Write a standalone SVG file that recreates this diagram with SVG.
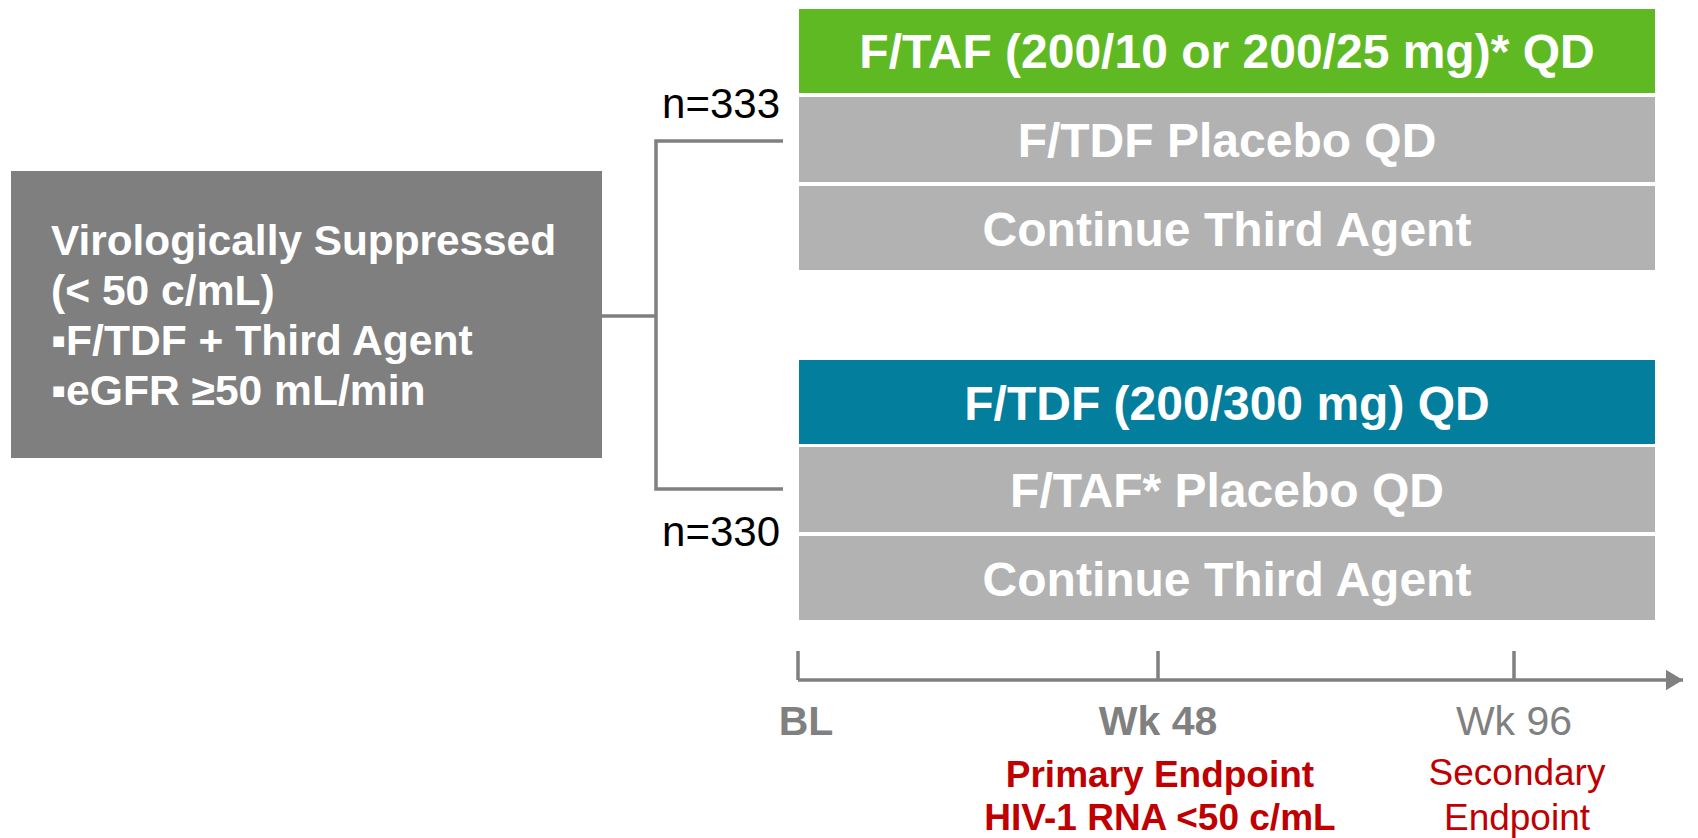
<svg xmlns="http://www.w3.org/2000/svg" width="1698" height="838" viewBox="0 0 1698 838">
<defs>
<style>
.bx{font-family:"Liberation Sans",Arial,sans-serif;font-weight:bold;font-size:48px;fill:#fff;text-anchor:middle}
.lt{font-family:"Liberation Sans",Arial,sans-serif;font-weight:bold;font-size:42.6px;fill:#fff}
.n{font-family:"Liberation Sans",Arial,sans-serif;font-size:42px;fill:#000;text-anchor:end}
.tl{font-family:"Liberation Sans",Arial,sans-serif;font-size:41px;fill:#808080;text-anchor:middle}
.ep{font-family:"Liberation Sans",Arial,sans-serif;font-size:37px;fill:#c00000;text-anchor:middle}
.ln{stroke:#808080;stroke-width:3.5;fill:none}
</style>
<marker id="arr" markerWidth="6" markerHeight="6" refX="5" refY="3" orient="auto" markerUnits="strokeWidth">
<path d="M0,0 L5,3 L0,6 Z" fill="#808080"/>
</marker>
</defs>
<rect width="1698" height="838" fill="#fff"/>

<g id="connectors">
<path class="ln" d="M601,316 H656 M783,141 H656 V489 H783"/>
<path class="ln" d="M798,680 H1683" marker-end="url(#arr)"/>
<path class="ln" d="M798,651 V680 M1158,651 V680 M1514,651 V680"/>
</g>

<g id="population">
<rect x="11" y="171" width="591" height="287" fill="#7f7f7f"/>
<text class="lt" x="51" y="255" textLength="505" lengthAdjust="spacingAndGlyphs">Virologically Suppressed</text>
<text class="lt" x="51" y="305">(&lt; 50 c/mL)</text>
<text class="lt" x="51" y="355">▪F/TDF + Third Agent</text>
<text class="lt" x="51" y="405">▪eGFR ≥50 mL/min</text>
</g>

<g id="n333"><text class="n" x="780" y="118">n=333</text></g>
<g id="n330"><text class="n" x="780" y="546">n=330</text></g>

<g id="arm1-taf">
<rect x="799" y="9" width="856" height="84" fill="#5fb923"/>
<text class="bx" x="1227" y="68">F/TAF (200/10 or 200/25 mg)* QD</text>
</g>
<g id="arm1-placebo">
<rect x="799" y="97" width="856" height="85" fill="#b2b2b2"/>
<text class="bx" x="1227" y="157">F/TDF Placebo QD</text>
</g>
<g id="arm1-third">
<rect x="799" y="186" width="856" height="84" fill="#b2b2b2"/>
<text class="bx" x="1227" y="246">Continue Third Agent</text>
</g>

<g id="arm2-tdf">
<rect x="799" y="360" width="856" height="84" fill="#037e9c"/>
<text class="bx" x="1227" y="420">F/TDF (200/300 mg) QD</text>
</g>
<g id="arm2-placebo">
<rect x="799" y="447" width="856" height="85" fill="#b2b2b2"/>
<text class="bx" x="1227" y="507">F/TAF* Placebo QD</text>
</g>
<g id="arm2-third">
<rect x="799" y="536" width="856" height="84" fill="#b2b2b2"/>
<text class="bx" x="1227" y="596">Continue Third Agent</text>
</g>

<g id="timeline-labels">
<text class="tl" x="806" y="735" font-weight="bold">BL</text>
<text class="tl" x="1158" y="735" font-weight="bold">Wk 48</text>
<text class="tl" x="1514" y="735">Wk 96</text>
<text class="ep" x="1160" y="787" font-weight="bold">Primary Endpoint</text>
<text class="ep" x="1160" y="830" font-weight="bold">HIV-1 RNA &lt;50 c/mL</text>
<text class="ep" x="1517" y="785">Secondary</text>
<text class="ep" x="1517" y="830">Endpoint</text>
</g>
</svg>
